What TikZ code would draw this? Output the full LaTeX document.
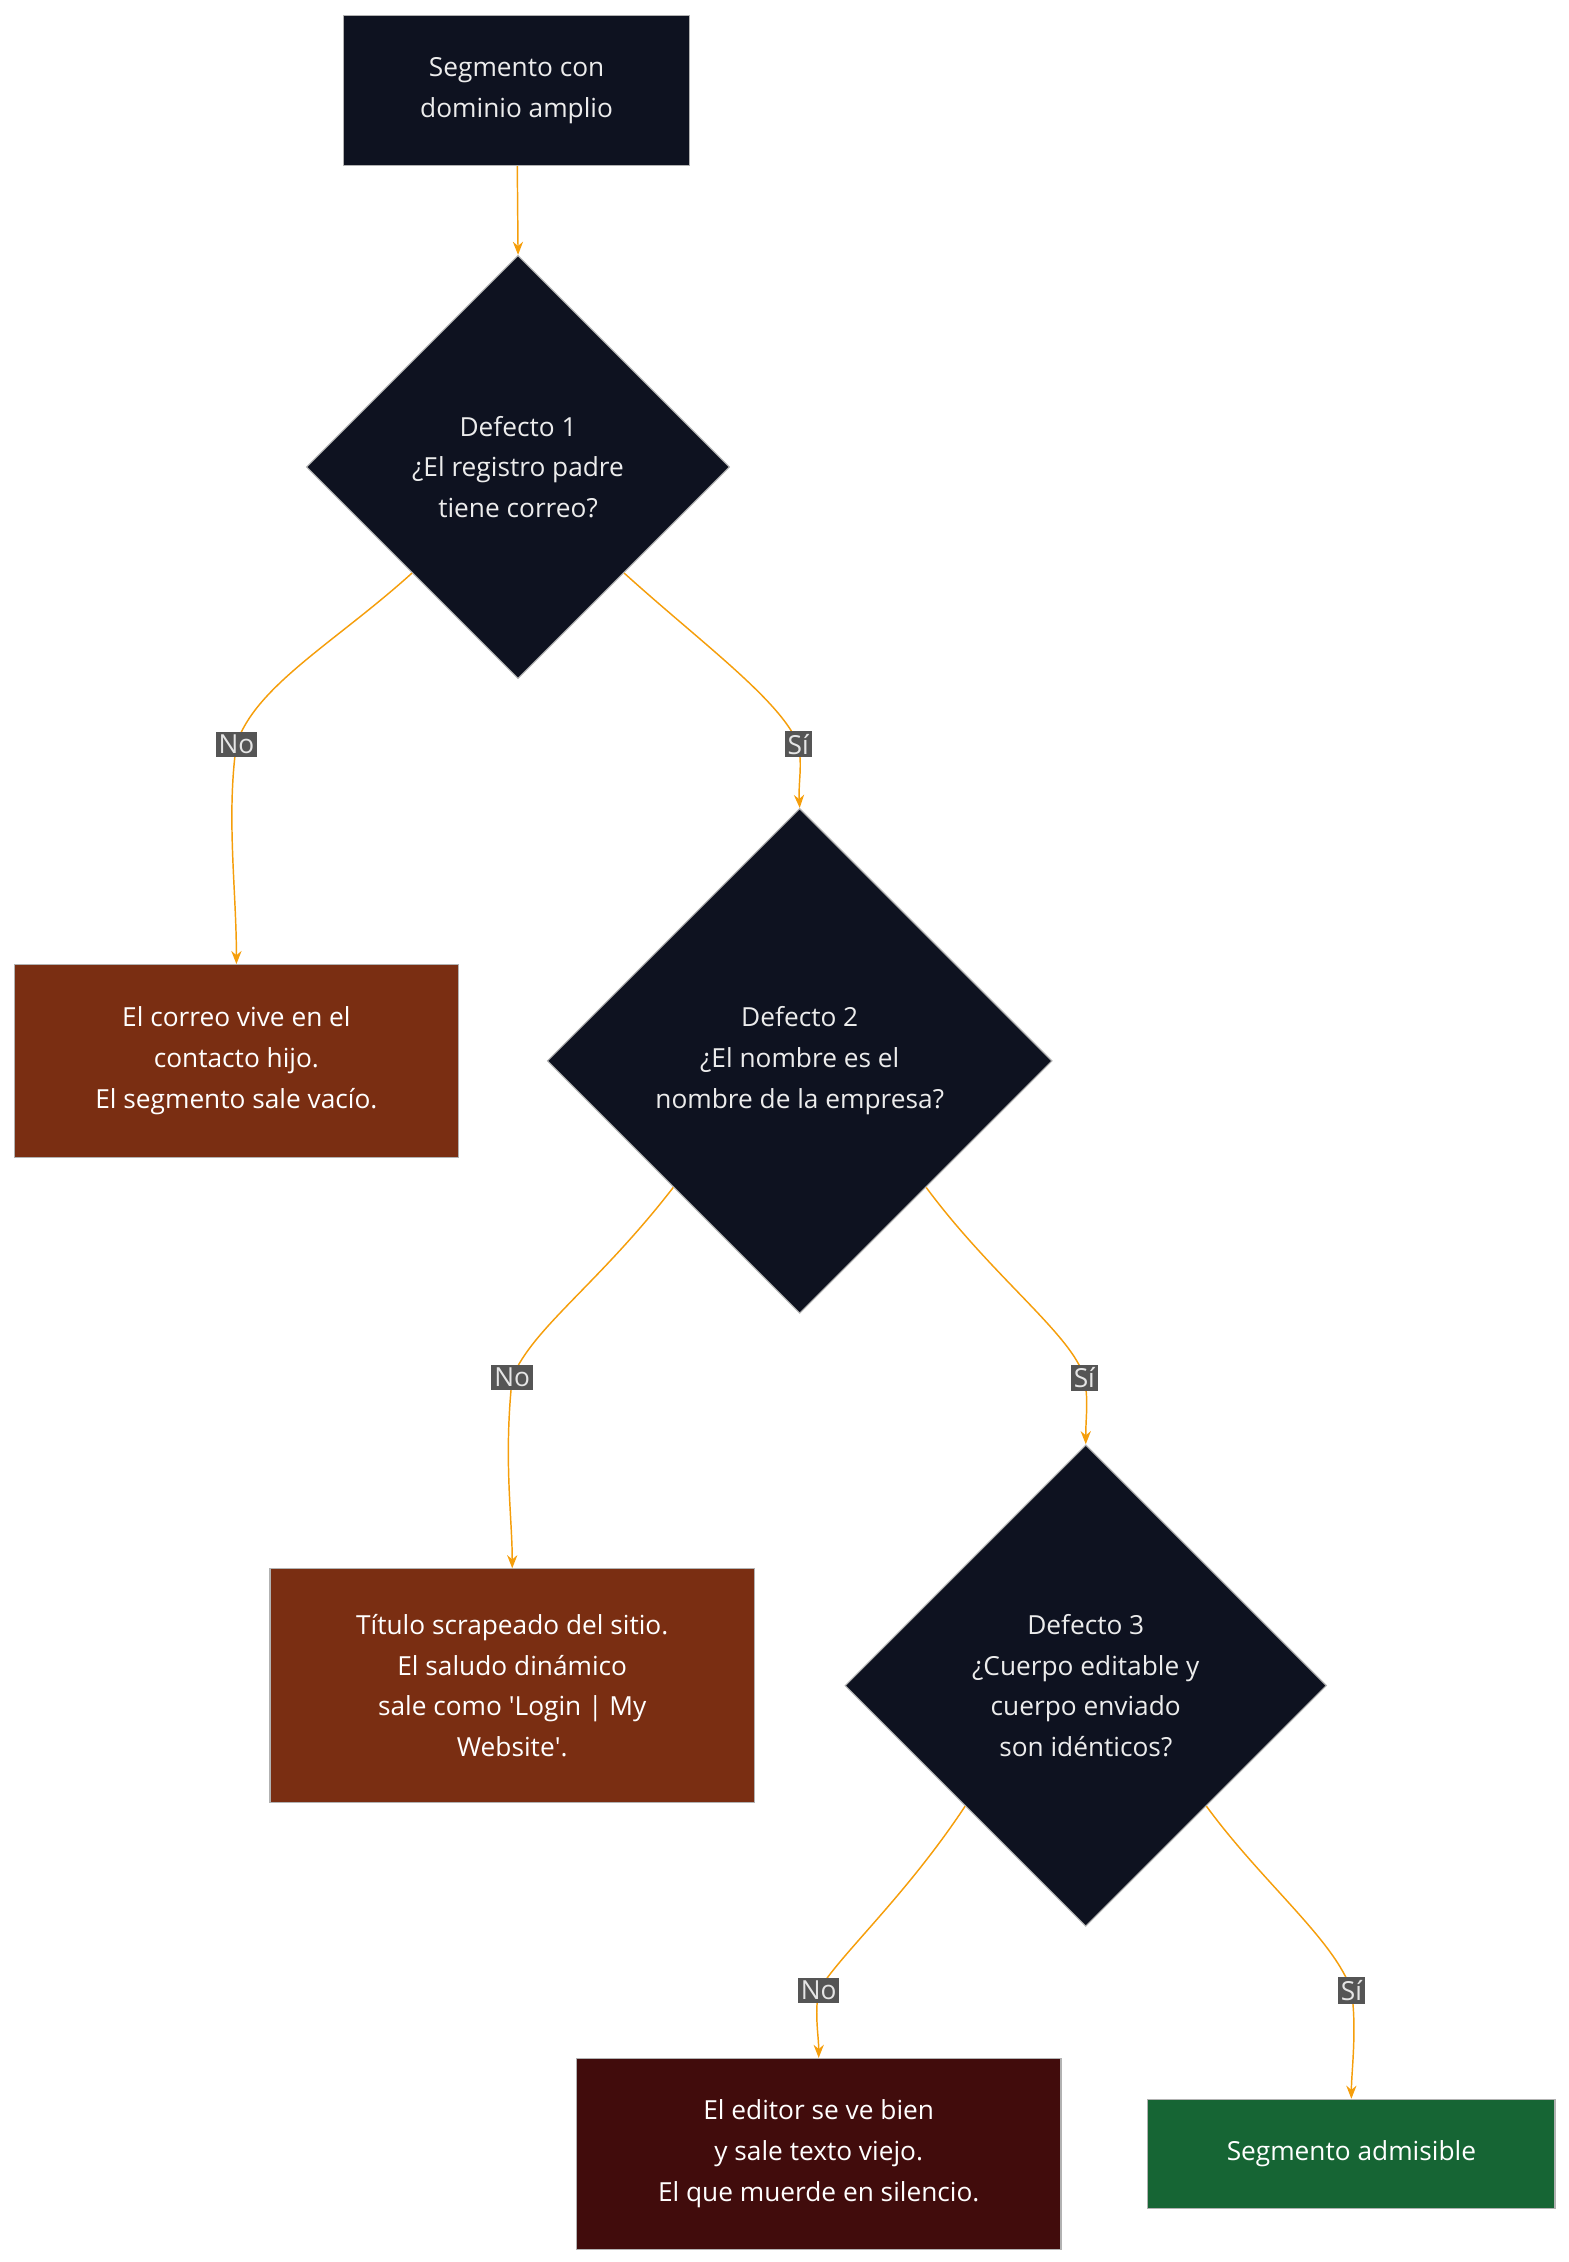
\documentclass[tikz,border=0pt]{standalone}
\usepackage{fontspec}
\setmainfont{Open Sans}
\usetikzlibrary{shapes.geometric,arrows.meta}
\definecolor{navy}{HTML}{0E1220}
\definecolor{rust}{HTML}{7A2E12}
\definecolor{blood}{HTML}{410C0C}
\definecolor{leaf}{HTML}{166534}
\definecolor{amber}{HTML}{F59E0B}
\definecolor{tag}{HTML}{555555}
\tikzset{every picture/.style={line width=0.75pt}}
\tikzset{
  box/.style={draw=gray!60, text=white, align=center, inner sep=0pt, font=\fontsize{18}{28}\selectfont},
  ask/.style={diamond, aspect=1, draw=gray!60, fill=navy, text=gray!15, align=center, inner sep=0pt, font=\fontsize{18}{28}\selectfont},
  flow/.style={draw=amber, line width=1pt, -{Stealth[length=9pt,width=7pt]}},
  tagl/.style={fill=tag, text=gray!20, inner sep=2pt, font=\fontsize{18}{22}\selectfont}
}

\begin{document}
\begin{tikzpicture}[x=1pt,y=1pt,yscale=-1]
\useasboundingbox (0,0) rectangle (1075,1550);

% Nodes
\node[box, fill=navy, text=gray!15, minimum width=237, minimum height=103] (start) at (354,62) {Segmento con\\dominio amplio};
\node[ask, minimum width=290, minimum height=290] (d1) at (355,320) {Defecto 1\\¿El registro padre\\tiene correo?};
\node[box, fill=rust, minimum width=304, minimum height=132] (empty) at (162,727) {El correo vive en el\\contacto hijo.\\El segmento sale vacío.};
\node[ask, minimum width=346, minimum height=346] (d2) at (548,727) {Defecto 2\\¿El nombre es el\\nombre de la empresa?};
\node[box, fill=rust, minimum width=332, minimum height=160] (title) at (351,1155) {Título scrapeado del sitio.\\El saludo dinámico\\sale como \textquotesingle Login | My\\Website\textquotesingle.};
\node[ask, minimum width=330, minimum height=330] (d3) at (744,1155) {Defecto 3\\¿Cuerpo editable y\\cuerpo enviado\\son idénticos?};
\node[box, fill=blood, minimum width=332, minimum height=131] (stale) at (561,1476) {El editor se ve bien\\y sale texto viejo.\\El que muerde en silencio.};
\node[box, fill=leaf, minimum width=279, minimum height=75] (ok) at (926,1476) {Segmento admisible};

% Connectors
\coordinate (n1) at (162,510);
\coordinate (s1) at (547,510);
\coordinate (n2) at (351,944);
\coordinate (s2) at (743,944);
\coordinate (n3) at (561,1364);
\coordinate (s3) at (926,1364);

\draw[flow] (start) -- (d1.north);
\draw[flow] (d1.south west) .. controls (230,440) and (175,470) .. (n1) .. controls (155,560) and (162,610) .. (empty.north);
\draw[flow] (d1.south east) .. controls (480,440) and (535,480) .. (s1) .. controls (550,525) and (547,535) .. (d2.north);
\draw[flow] (d2.south west) .. controls (410,880) and (365,910) .. (n2) .. controls (345,1000) and (351,1040) .. (title.north);
\draw[flow] (d2.south east) .. controls (680,875) and (735,915) .. (s2) .. controls (746,960) and (744,970) .. (d3.north);
\draw[flow] (d3.south west) .. controls (620,1300) and (575,1340) .. (n3) .. controls (558,1380) and (561,1395) .. (stale.north);
\draw[flow] (d3.south east) .. controls (865,1290) and (915,1330) .. (s3) .. controls (930,1390) and (926,1420) .. (ok.north);

% Edge labels
\node[tagl] (tn1) at (n1) {No};
\node[tagl] (ts1) at (s1) {Sí};
\node[tagl] (tn2) at (n2) {No};
\node[tagl] (ts2) at (s2) {Sí};
\node[tagl] (tn3) at (n3) {No};
\node[tagl] (ts3) at (s3) {Sí};
\end{tikzpicture}
\end{document}
